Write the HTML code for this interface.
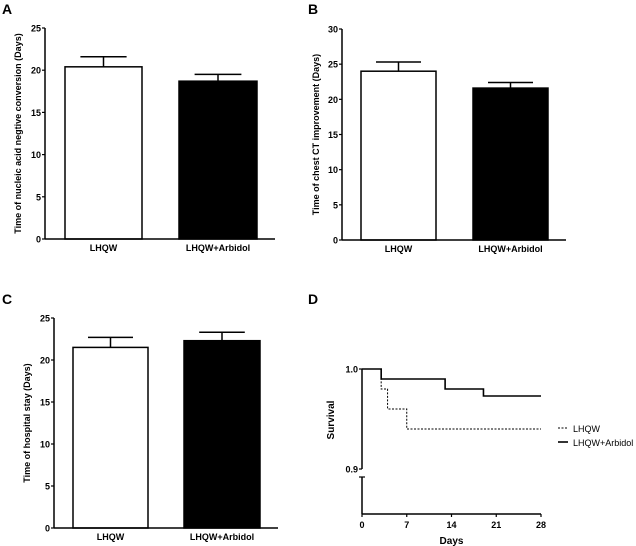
<!DOCTYPE html>
<html><head><meta charset="utf-8"><style>
html,body{margin:0;padding:0;background:#fff;}
svg{display:block;font-family:"Liberation Sans",Arial,sans-serif;}
</style></head><body>
<svg id="fig" width="636" height="546" viewBox="0 0 636 546">
<g font-weight="bold" font-size="14">
<text x="2" y="14">A</text>
<text x="308" y="14">B</text>
<text x="2" y="304">C</text>
<text x="308" y="304">D</text>
</g>
</svg>
<script>
const NS='http://www.w3.org/2000/svg';
const svg=document.getElementById('fig');
function mk(tag,attrs,parent,text){const e=document.createElementNS(NS,tag);for(const k in attrs)e.setAttribute(k,attrs[k]);if(text!==undefined)e.textContent=text;(parent||svg).appendChild(e);return e;}

const barCategories=['LHQW','LHQW+Arbidol'];
const aMeans=[20.4,18.7];
const aErrors=[1.2,0.8];
const aTicks=[0,5,10,15,20,25];
const bMeans=[24.0,21.6];
const bErrors=[1.3,0.8];
const bTicks=[0,5,10,15,20,25,30];
const cMeans=[21.5,22.3];
const cErrors=[1.2,1.0];
const cTicks=[0,5,10,15,20,25];

const survDays=[0,7,14,21,28];
const lhqwTimes=[0,3,4,7,28];
const lhqwSurv=[1.0,0.98,0.96,0.94,0.94];
const arbTimes=[0,3,13,19,28];
const arbSurv=[1.0,0.99,0.98,0.973,0.973];
const survTicks=[0.9,1.0];

function barPanel(cfg){
  const g=mk('g',{});
  
  
  const yMax=cfg.ticks[cfg.ticks.length-1];
  const y=v=>cfg.y0-(v/yMax)*(cfg.y0-cfg.yTop);
  // bars
  cfg.means.forEach((m,i)=>{
    const [x1,x2]=cfg.barX[i];
    const top=y(m), eTop=y(m+cfg.errors[i]), cx=(x1+x2)/2;
    const l=mk('line',{x1:cx,y1:top,x2:cx,y2:eTop,stroke:'#000','stroke-width':1.5},g);
    
    
    const c=mk('line',{x1:cx-(x2-x1)*0.3,y1:eTop,x2:cx+(x2-x1)*0.3,y2:eTop,stroke:'#000','stroke-width':1.5},g);
    
    
    const r=mk('rect',{x:x1,y:top,width:x2-x1,height:cfg.y0-top,fill:i===0?'#fff':'#000',stroke:'#000','stroke-width':1.5},g);
    
    
    const t=mk('text',{x:cx,y:cfg.y0+12,'font-size':9,'font-weight':'bold','text-anchor':'middle'},g,barCategories[i]);
    
    
  });
  // axes
  const ya=mk('line',{x1:cfg.ax,y1:cfg.yTop,x2:cfg.ax,y2:cfg.y0,stroke:'#000','stroke-width':1.5},g);
  
  
  const xa=mk('line',{x1:cfg.ax,y1:cfg.y0,x2:cfg.xEnd,y2:cfg.y0,stroke:'#000','stroke-width':1.5},g);
  
  
  cfg.ticks.forEach(tv=>{
    mk('line',{x1:cfg.ax-3,y1:y(tv),x2:cfg.ax,y2:y(tv),stroke:'#000','stroke-width':1.2},g);
    const t=mk('text',{x:cfg.ax-4,y:y(tv)+3.5,'font-size':9,'font-weight':'bold','text-anchor':'end'},g,String(tv));
    
    
  });
  const tx=cfg.titleX, ty=(cfg.y0+cfg.yTop)/2;
  const tt=mk('text',{x:tx,y:ty,'font-size':9,'font-weight':'bold','text-anchor':'middle',transform:`rotate(-90 ${tx} ${ty})`},g,cfg.title);
  
  
}
barPanel({name:'panel-a-chart',means:aMeans,errors:aErrors,ticks:aTicks,ax:45,y0:239,yTop:28,xEnd:275,barX:[[65,142],[179,257]],titleX:21,title:'Time of nucleic acid negtive conversion (Days)'});
barPanel({name:'panel-b-chart',means:bMeans,errors:bErrors,ticks:bTicks,ax:342,y0:240,yTop:29,xEnd:566,barX:[[361,436],[473,548]],titleX:319,title:'Time of chest CT improvement (Days)'});
barPanel({name:'panel-c-chart',means:cMeans,errors:cErrors,ticks:cTicks,ax:54,y0:528,yTop:318,xEnd:278,barX:[[73,148],[184,260]],titleX:30,title:'Time of hospital stay (Days)'});

// Panel D survival
(function(){
  const g=mk('g',{});
  
  
  const ax=362, x=d=>ax+(d/28)*(541-ax);
  const y=v=>369+(1.0-v)*1000;
  const bottom=514;
  const ya1=mk('line',{x1:ax,y1:y(1.0),x2:ax,y2:y(0.9),stroke:'#000','stroke-width':1.5},g);
  
  
  const ya2=mk('line',{x1:ax,y1:y(0.9)+8,x2:ax,y2:bottom,stroke:'#000','stroke-width':1.5},g);
  
  
  mk('line',{x1:ax-3,y1:y(0.9)+8,x2:ax+3,y2:y(0.9)+8,stroke:'#000','stroke-width':1.2},g);
  const xa=mk('line',{x1:ax,y1:bottom,x2:x(28),y2:bottom,stroke:'#000','stroke-width':1.5},g);
  
  
  survTicks.forEach(tv=>{
    mk('line',{x1:ax-3,y1:y(tv),x2:ax,y2:y(tv),stroke:'#000','stroke-width':1.2},g);
    const t=mk('text',{x:ax-4,y:y(tv)+3.5,'font-size':9,'font-weight':'bold','text-anchor':'end'},g,tv.toFixed(1));
    
    
  });
  survDays.forEach(d=>{
    mk('line',{x1:x(d),y1:bottom,x2:x(d),y2:bottom+3,stroke:'#000','stroke-width':1.2},g);
    const t=mk('text',{x:x(d),y:bottom+14,'font-size':9,'font-weight':'bold','text-anchor':'middle'},g,String(d));
    
    
  });
  const xt=mk('text',{x:x(14),y:544,'font-size':10,'font-weight':'bold','text-anchor':'middle'},g,'Days');
  
  
  const yt=mk('text',{x:334,y:420,'font-size':10,'font-weight':'bold','text-anchor':'middle',transform:'rotate(-90 334 420)'},g,'Survival');
  
  
  function step(times,surv){
    let d=`M${x(times[0])},${y(surv[0])}`;
    for(let i=1;i<times.length;i++){d+=` H${x(times[i])} V${y(surv[i])}`;}
    return d;
  }
  const p1=mk('path',{d:step(lhqwTimes,lhqwSurv),fill:'none',stroke:'#000','stroke-width':1,'stroke-dasharray':'2,1.5'},g);
  
  
  const p2=mk('path',{d:step(arbTimes,arbSurv),fill:'none',stroke:'#000','stroke-width':1.6},g);
  
  
  // legend
  const l1=mk('g',{},g);
  
  
  mk('line',{x1:558,y1:428,x2:568,y2:428,stroke:'#000','stroke-width':1,'stroke-dasharray':'2,1.5'},l1);
  mk('text',{x:573,y:432,'font-size':9},l1,'LHQW');
  const l2=mk('g',{},g);
  
  
  mk('line',{x1:558,y1:442,x2:568,y2:442,stroke:'#000','stroke-width':1.6},l2);
  mk('text',{x:573,y:446,'font-size':9},l2,'LHQW+Arbidol');
})();
</script>
</body></html>
